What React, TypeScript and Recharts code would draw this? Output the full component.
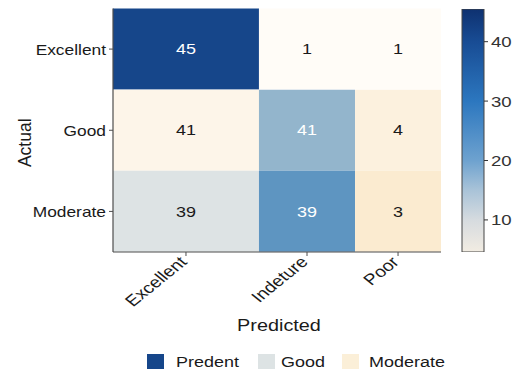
import React from "react";
import { BarChart, Bar, XAxis, YAxis, Cell, LabelList, Legend, Label } from "recharts";

// Confusion matrix: rows are actual classes, columns are predicted classes
const actualClasses = ["Excellent", "Good", "Moderate"];
const predictedClasses = ["Excellent", "Indeture", "Poor"];
// relative tile widths along the predicted axis
const predictedWidths = [0.445, 0.293, 0.262];
const counts = [
  [45, 1, 1],
  [41, 41, 4],
  [39, 39, 3],
];
const tileColors = [
  ["#16468a", "#fffcf7", "#fffcf7"],
  ["#fdf5e9", "#93b5cc", "#fcf1de"],
  ["#dde3e4", "#5e95c1", "#fbebd0"],
];
const lightText = [
  [true, false, false],
  [false, true, false],
  [false, true, false],
];

const legendLabels = ["Predent", "Good", "Moderate"];
const legendColors = ["#16468a", "#dde3e4", "#fbefd8"];

const colorbarDomain: [number, number] = [4.6, 45.5];
const colorbarTicks = [10, 20, 30, 40];
const colorbarValues = [45.5, 40, 30, 20, 15, 10, 4.6];
const colorbarColors = ["#0e3170", "#184c94", "#2c77bf", "#6ea2cf", "#a9c3d8", "#d6dbdf", "#f2ece2"];

const FONT = "'Liberation Sans', Arial, Helvetica, sans-serif";
const INK = "#1a1a1a";
const FRAME = "#4d4d4d";
// glyphs are drawn a little wider than tall
const SX = 1.24;

const totalWidth = predictedWidths.reduce((a, b) => a + b, 0);
const tickCenters = predictedWidths.map(
  (w, j) => predictedWidths.slice(0, j).reduce((a, b) => a + b, 0) + w / 2
);

const rows = actualClasses.map((a, i) => {
  const r: Record<string, string | number> = { actual: a };
  predictedWidths.forEach((w, j) => {
    r[`w${j}`] = w;
    r[`c${j}`] = counts[i][j];
  });
  return r;
});

type WideTextProps = {
  x: number;
  y: number;
  children: React.ReactNode;
  size: number;
  anchor?: "start" | "middle" | "end";
  fill?: string;
  dy?: string;
  rotate?: number;
};

const WideText = ({ x, y, children, size, anchor = "middle", fill = INK, dy, rotate }: WideTextProps) => (
  <g transform={`translate(${x},${y}) scale(${SX},1)${rotate ? ` rotate(${rotate})` : ""}`}>
    <text x={0} y={0} dy={dy} textAnchor={anchor} fontFamily={FONT} fontSize={size} fill={fill}>
      {children}
    </text>
  </g>
);

const makeCellLabel = (j: number) => (props: any) => {
  const { x, y, width, height, value, index } = props;
  return (
    <WideText
      x={Number(x) + Number(width) / 2}
      y={Number(y) + Number(height) / 2}
      dy="0.36em"
      size={14.5}
      fill={lightText[index][j] ? "#ffffff" : INK}
    >
      {value}
    </WideText>
  );
};

const XTick = (props: any) => {
  const { x, y, index } = props;
  return (
    <WideText x={x + 2} y={y + 7} size={15.5} anchor="end" rotate={-45}>
      {predictedClasses[index]}
    </WideText>
  );
};

const YTick = (props: any) => {
  const { x, y, payload } = props;
  return (
    <WideText x={x} y={y + 1} size={14} anchor="end" dy="0.36em">
      {payload.value}
    </WideText>
  );
};

const ScaleTick = (props: any) => {
  const { x, y, payload } = props;
  return (
    <WideText x={x} y={y} size={15} anchor="start" dy="0.36em" fill="#333333">
      {payload.value}
    </WideText>
  );
};

const legendSwatchX = [147, 258, 342];
const legendTextX = [176, 281, 369];

const LegendContent = () => (
  <svg width={512} height={21} style={{ display: "block" }}>
    {legendLabels.map((l, k) => (
      <g key={l}>
        <rect x={legendSwatchX[k]} y={3} width={17} height={15} fill={legendColors[k]} />
        <WideText x={legendTextX[k]} y={16} size={14.5} anchor="start">
          {l}
        </WideText>
      </g>
    ))}
  </svg>
);

export default function App() {
  return (
    <div
      style={{
        position: "absolute",
        left: 0,
        top: 0,
        width: 512,
        height: 372,
        overflow: "hidden",
        background: "#ffffff",
        fontFamily: FONT,
      }}
    >
      <BarChart
        width={512}
        height={372}
        data={rows}
        layout="vertical"
        barCategoryGap={0}
        barGap={0}
        margin={{ top: 8.5, right: 71, bottom: 0, left: 0 }}
      >
        <XAxis
          type="number"
          domain={[0, totalWidth]}
          allowDataOverflow
          ticks={tickCenters}
          tick={<XTick />}
          tickSize={4}
          tickMargin={0}
          interval={0}
          height={99}
          axisLine={{ stroke: FRAME, strokeWidth: 1.2 }}
          tickLine={{ stroke: FRAME }}
        >
          <Label
            content={(p: any) => {
              const vb = p.viewBox;
              return (
                <WideText x={vb.x + vb.width / 2 + 2} y={vb.y + 79} size={16}>
                  Predicted
                </WideText>
              );
            }}
          />
        </XAxis>
        <XAxis
          xAxisId="top"
          orientation="top"
          type="number"
          domain={[0, totalWidth]}
          height={0}
          tick={false}
          tickLine={false}
          axisLine={{ stroke: FRAME, strokeWidth: 1.2 }}
        />
        <YAxis
          type="category"
          dataKey="actual"
          width={113}
          tickSize={4}
          tickMargin={3}
          axisLine={{ stroke: FRAME, strokeWidth: 1.2 }}
          tickLine={{ stroke: FRAME }}
          tick={<YTick />}
        >
          <Label
            content={(p: any) => {
              const vb = p.viewBox;
              const cx = 30.5;
              const cy = vb.y + vb.height / 2 + 12.5;
              return (
                <text
                  x={cx}
                  y={cy}
                  transform={`rotate(-90, ${cx}, ${cy})`}
                  textAnchor="middle"
                  fontFamily={FONT}
                  fontSize={17.5}
                  fill={INK}
                >
                  Actual
                </text>
              );
            }}
          />
        </YAxis>
        <YAxis
          yAxisId="right"
          orientation="right"
          type="category"
          dataKey="actual"
          width={0}
          tick={false}
          tickLine={false}
          axisLine={{ stroke: FRAME, strokeWidth: 1.2 }}
        />
        {predictedWidths.map((_, j) => (
          <Bar key={j} dataKey={`w${j}`} stackId="tiles" isAnimationActive={false}>
            {rows.map((_r, i) => (
              <Cell key={i} fill={tileColors[i][j]} />
            ))}
            <LabelList dataKey={`c${j}`} content={makeCellLabel(j)} />
          </Bar>
        ))}
        <Legend verticalAlign="bottom" wrapperStyle={{ left: 0, width: 512 }} content={<LegendContent />} />
      </BarChart>

      <div style={{ position: "absolute", left: 455, top: 0 }}>
        <BarChart
          width={57}
          height={372}
          data={[{ k: "scale", range: colorbarDomain }]}
          barCategoryGap={0}
          margin={{ top: 9, right: 0, bottom: 120, left: 7 }}
        >
          <defs>
            <linearGradient id="colorbarGradient" x1="0" y1="0" x2="0" y2="1">
              {colorbarValues.map((v, k) => (
                <stop
                  key={k}
                  offset={(colorbarDomain[1] - v) / (colorbarDomain[1] - colorbarDomain[0])}
                  stopColor={colorbarColors[k]}
                />
              ))}
            </linearGradient>
          </defs>
          <XAxis dataKey="k" type="category" hide />
          <YAxis
            orientation="right"
            type="number"
            domain={colorbarDomain}
            allowDataOverflow
            ticks={colorbarTicks}
            width={28}
            tickSize={4}
            tickMargin={3}
            axisLine={false}
            tickLine={{ stroke: "#333333" }}
            tick={<ScaleTick />}
          />
          <Bar dataKey="range" fill="url(#colorbarGradient)" stroke="#444444" isAnimationActive={false} />
        </BarChart>
      </div>
    </div>
  );
}
